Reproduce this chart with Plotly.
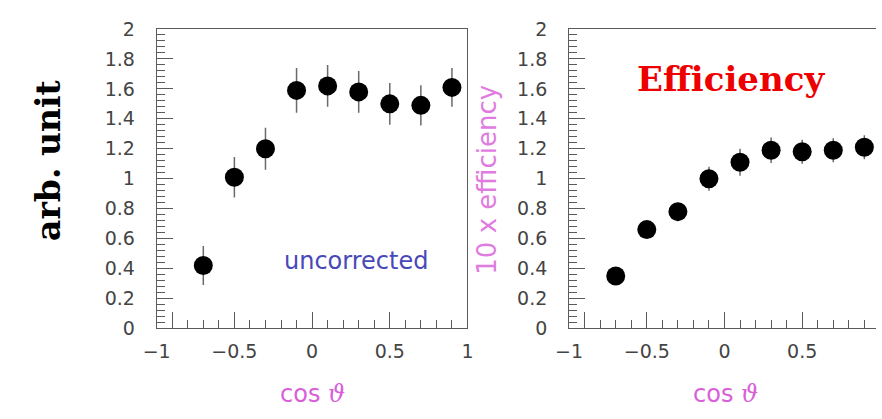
import plotly.graph_objects as go

# Bin centres in cos(theta)
cos_theta = [-0.7, -0.5, -0.3, -0.1, 0.1, 0.3, 0.5, 0.7, 0.9]

# Uncorrected angular distribution (arb. units) and its errors
uncorrected = [0.42, 1.01, 1.20, 1.59, 1.62, 1.58, 1.50, 1.49, 1.61]
uncorrected_err = [0.13, 0.135, 0.14, 0.15, 0.14, 0.14, 0.14, 0.135, 0.13]

# 10 x efficiency and its errors
efficiency10 = [0.35, 0.66, 0.78, 1.00, 1.11, 1.19, 1.18, 1.19, 1.21]
efficiency10_err = [0.04, 0.05, 0.06, 0.08, 0.09, 0.085, 0.08, 0.08, 0.08]

x_tickvals = [-1, -0.9, -0.5, 0, 0.5, 1]
x_ticktext = ["\u22121", "", "\u22120.5", "0", "0.5", "1"]

W, H = 882, 419
FRAME = "#5a5a5a"
LABEL = "#444444"
MAGENTA = "#d860d8"

fig = go.Figure()

marker = dict(color="black", size=19, line=dict(width=0))
errstyle = dict(type="data", thickness=1.5, width=0, color="#6a6a6a")

fig.add_trace(go.Scatter(
    x=cos_theta, y=uncorrected, mode="markers", marker=marker,
    error_y=dict(array=uncorrected_err, **errstyle),
    xaxis="x", yaxis="y", showlegend=False))

fig.add_trace(go.Scatter(
    x=cos_theta, y=efficiency10, mode="markers", marker=marker,
    error_y=dict(array=efficiency10_err, **errstyle),
    xaxis="x2", yaxis="y2", showlegend=False))

tickfont = dict(family="DejaVu Sans", size=19, color=LABEL)

def xaxis(domain, rng, anchor):
    return dict(
        domain=domain, range=rng, anchor=anchor,
        showgrid=False, zeroline=False,
        showline=True, linecolor=FRAME, linewidth=1, mirror=True,
        ticks="inside", ticklen=16, tickcolor=FRAME, tickwidth=1,
        tickmode="array", tickvals=x_tickvals, ticktext=x_ticktext,
        minor=dict(ticks="inside", ticklen=8, dtick=0.1, tick0=0,
                   tickcolor=FRAME, tickwidth=1, showgrid=False),
        tickfont=tickfont, ticklabelstandoff=6,
    )

def yaxis(domain, anchor, mirror):
    return dict(
        domain=domain, range=[0, 2], anchor=anchor,
        showgrid=False, zeroline=False,
        showline=True, linecolor=FRAME, linewidth=1, mirror=mirror,
        ticks="inside", ticklen=16, tickcolor=FRAME, tickwidth=1,
        tickmode="linear", tick0=0, dtick=0.2,
        minor=dict(ticks="inside", ticklen=8, dtick=0.04, tick0=0,
                   tickcolor=FRAME, tickwidth=1, showgrid=False),
        tickfont=tickfont, ticklabelstandoff=17,
    )

y_dom = [(H - 335) / H, (H - 19) / H]

fig.update_layout(
    width=W, height=H,
    margin=dict(l=0, r=0, t=0, b=0),
    paper_bgcolor="white", plot_bgcolor="white",
    xaxis=xaxis([146 / W, 464 / W], [-1, 1], "y"),
    yaxis=yaxis(y_dom, "x", True),
    xaxis2=xaxis([568 / W, 1.0], [-1, 0.975], "y2"),
    yaxis2=yaxis(y_dom, "x2", False),
)

cos_label = "cos <span style='font-family:DejaVu Serif;font-style:italic'>\u03d1</span>"

annotations = [
    dict(text="arb. unit", x=35 / W, y=1 - 158 / H, textangle=-90,
         font=dict(family="DejaVu Serif", size=33, color="black", weight="bold")),
    dict(text="Efficiency", x=734 / W, y=1 - 72 / H,
         font=dict(family="DejaVu Serif", size=34, color="#ee0000", weight="bold")),
    dict(text="uncorrected", x=350 / W, y=1 - 264 / H,
         font=dict(family="DejaVu Sans", size=24, color="#4848b8")),
    dict(text="10 x efficiency", x=484 / W, y=1 - 178 / H, textangle=-90,
         font=dict(family="DejaVu Sans", size=26, color="#e07ce0")),
    dict(text=cos_label, x=305 / W, y=1 - 404 / H,
         font=dict(family="DejaVu Sans", size=24, color=MAGENTA)),
    dict(text=cos_label, x=728 / W, y=1 - 404 / H,
         font=dict(family="DejaVu Sans", size=24, color=MAGENTA)),
]
for a in annotations:
    fig.add_annotation(xref="paper", yref="paper", showarrow=False,
                       xanchor="center", yanchor="middle", **a)

fig.write_html("out.html")
